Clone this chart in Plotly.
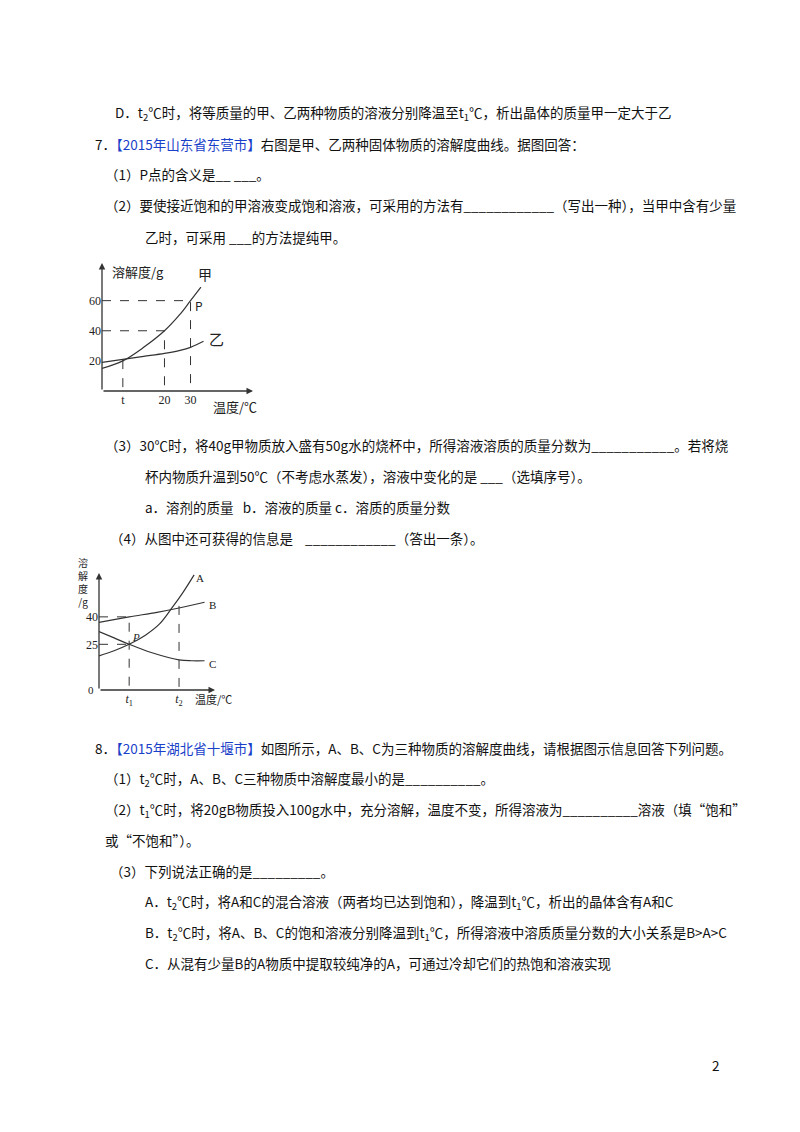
import plotly.graph_objects as go

W, H = 800, 1132
def px(x): return x / W
def py(y): return 1 - y / H

# Chart 1 data (甲/乙 solubility)
c1_x_jia = [-4, 4, 12, 20, 26, 30, 34]
c1_y_jia = [15, 20, 29, 40, 51, 60, 69]
c1_x_yi = [-4, 4, 12, 20, 26, 30, 35]
c1_y_yi = [19, 21, 23, 25, 27, 29, 33]
c1_xticks = [4, 20, 30]
c1_xlabels = ["t", "20", "30"]
c1_yticks = [20, 40, 60]

# Chart 2 data (A/B/C solubility)
c2_x_a = [0, 13, 26, 40, 52, 63, 72, 82]
c2_y_a = [18.7, 21.5, 25, 30, 36, 45, 53, 63]
c2_x_b = [0, 26, 50, 70, 91]
c2_y_b = [37, 40, 42.5, 45, 48]
c2_x_c = [0, 13, 26, 45, 69, 80, 91]
c2_y_c = [32, 28.5, 25, 20.5, 16.5, 16, 16]
c2_xticks = [26, 69]
c2_xlabels = ["<i>t</i><sub>1</sub>", "<i>t</i><sub>2</sub>"]
c2_yticks = [25, 40]

fig = go.Figure()
ln = dict(color="#333", width=1.2)
dash = dict(color="#333", width=1, dash="dash")
fig.add_trace(go.Scatter(x=c1_x_jia, y=c1_y_jia, mode="lines", line=dict(shape="spline", **ln), xaxis="x", yaxis="y"))
fig.add_trace(go.Scatter(x=c1_x_yi, y=c1_y_yi, mode="lines", line=dict(shape="spline", **ln), xaxis="x", yaxis="y"))
for xs, ys in [([-4, 30, 30], [60, 60, 0]), ([-4, 20, 20], [40, 40, 0]), ([4, 4], [20.5, 0])]:
    fig.add_trace(go.Scatter(x=xs, y=ys, mode="lines", line=dash, xaxis="x", yaxis="y"))
fig.add_trace(go.Scatter(x=c2_x_a, y=c2_y_a, mode="lines", line=dict(shape="spline", **ln), xaxis="x2", yaxis="y2"))
fig.add_trace(go.Scatter(x=c2_x_b, y=c2_y_b, mode="lines", line=dict(shape="spline", **ln), xaxis="x2", yaxis="y2"))
fig.add_trace(go.Scatter(x=c2_x_c, y=c2_y_c, mode="lines", line=dict(shape="spline", **ln), xaxis="x2", yaxis="y2"))
for xs, ys in [([0, 26, 26], [40, 40, 0]), ([0, 26], [25, 25]), ([69, 69], [46, 0])]:
    fig.add_trace(go.Scatter(x=xs, y=ys, mode="lines", line=dash, xaxis="x2", yaxis="y2"))

tf = dict(family="Liberation Serif", size=12, color="#222")
fig.update_layout(
    width=W, height=H, margin=dict(l=0, r=0, t=0, b=0), showlegend=False,
    paper_bgcolor="white", plot_bgcolor="rgba(0,0,0,0)",
    xaxis=dict(domain=[px(94), px(245)], range=[-4, 54], showgrid=False, zeroline=False,
               tickvals=c1_xticks, ticktext=c1_xlabels, ticks="", tickfont=tf, showline=False),
    yaxis=dict(domain=[py(383), py(255)], range=[0, 85], showgrid=False, zeroline=False,
               tickvals=c1_yticks, ticks="", tickfont=tf, showline=False),
    xaxis2=dict(domain=[px(91), px(207)], range=[0, 100], showgrid=False, zeroline=False,
                tickvals=c2_xticks, ticktext=c2_xlabels, ticks="", tickfont=tf, anchor="y2"),
    yaxis2=dict(domain=[py(682), py(565)], range=[0, 64], showgrid=False, zeroline=False,
                tickvals=c2_yticks, ticks="", tickfont=tf, anchor="x2"),
)

ann = []
for xr, yr, x0, y0, x1, y1 in [("x", "y", -4, 0, 54, 0), ("x", "y", -4, 0, -4, 85),
                                ("x2", "y2", 0, 0, 100, 0), ("x2", "y2", 0, 0, 0, 64)]:
    ann.append(dict(x=x1, y=y1, ax=x0, ay=y0, xref=xr, yref=yr, axref=xr, ayref=yr, text="",
                    showarrow=True, arrowhead=2, arrowsize=1, arrowwidth=1.3, arrowcolor="#333"))
def pl(x, y, t, size=13, xa="left", font="Noto Sans CJK SC"):
    ann.append(dict(x=px(x), y=py(y), xref="paper", yref="paper", text=t, showarrow=False,
                    xanchor=xa, yanchor="middle", font=dict(family=font, size=size, color="#222")))
pl(102, 263, "溶解度/g", 13)
pl(188, 266, "甲", 14)
pl(185, 297, "P", 12)
pl(199, 330, "乙", 15)
pl(203, 398, "温度/℃", 13)
pl(186, 570, "A", 11, font="Liberation Serif")
pl(199, 597, "B", 11, font="Liberation Serif")
pl(199, 656, "C", 11, font="Liberation Serif")
pl(122, 629, "<i>P</i>", 11, font="Liberation Serif")
pl(185, 691, "温度/℃", 11)
pl(88, 682, "0", 11, "right", font="Liberation Serif")
ann.append(dict(x=px(68), y=py(574), xref="paper", yref="paper", text="溶<br>解<br>度<br>/g",
                showarrow=False, font=dict(family="Noto Sans CJK SC", size=10, color="#222"), align="center"))

S = "t<sub>2</sub>"
s1 = "t<sub>1</sub>"
BL = "<span style='color:#1a3fc9'>"
lines = [
    (105, 105, f"D．{S}℃时，将等质量的甲、乙两种物质的溶液分别降温至{s1}℃，析出晶体的质量甲一定大于乙"),
    (85, 136, f"7．{BL}【2015年山东省东营市】</span>右图是甲、乙两种固体物质的溶解度曲线。据图回答："),
    (95, 166, "（1）P点的含义是__ ___。"),
    (95, 197, "（2）要使接近饱和的甲溶液变成饱和溶液，可采用的方法有____________（写出一种），当甲中含有少量"),
    (135, 229, "乙时，可采用 ___的方法提纯甲。"),
    (95, 437, "（3）30℃时，将40g甲物质放入盛有50g水的烧杯中，所得溶液溶质的质量分数为___________。若将烧"),
    (135, 468, "杯内物质升温到50℃（不考虑水蒸发），溶液中变化的是 ___（选填序号）。"),
    (135, 499, "a．溶剂的质量   b．溶液的质量 c．溶质的质量分数"),
    (100, 530, "（4）从图中还可获得的信息是    ____________（答出一条）。"),
    (85, 740, f"8．{BL}【2015年湖北省十堰市】</span>如图所示，A、B、C为三种物质的溶解度曲线，请根据图示信息回答下列问题。"),
    (95, 771, f"（1）{S}℃时，A、B、C三种物质中溶解度最小的是__________。"),
    (95, 802, f"（2）{s1}℃时，将20gB物质投入100g水中，充分溶解，温度不变，所得溶液为__________溶液（填“饱和”"),
    (95, 832, "或“不饱和”）。"),
    (100, 863, "（3）下列说法正确的是_________。"),
    (135, 894, f"A．{S}℃时，将A和C的混合溶液（两者均已达到饱和），降温到{s1}℃，析出的晶体含有A和C"),
    (135, 925, f"B．{S}℃时，将A、B、C的饱和溶液分别降温到{s1}℃，所得溶液中溶质质量分数的大小关系是B>A>C"),
    (135, 955, "C．从混有少量B的A物质中提取较纯净的A，可通过冷却它们的热饱和溶液实现"),
    (702, 1057, "2"),
]
for x, y, t in lines:
    ann.append(dict(x=px(x), y=py(y), xref="paper", yref="paper", text=t, showarrow=False,
                    xanchor="left", yanchor="middle",
                    font=dict(family="Noto Sans CJK SC", size=13.5, color="#111")))
fig.update_layout(annotations=ann)
fig.write_html("out.html")
